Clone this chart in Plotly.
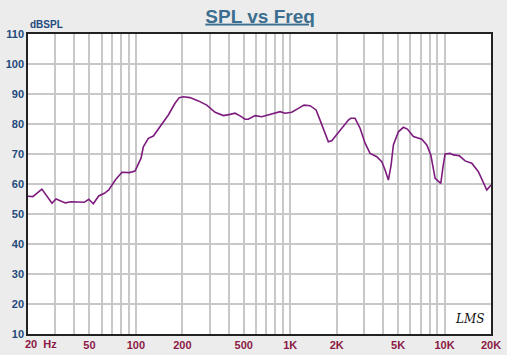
import plotly.graph_objects as go

# Frequency response
freq_hz = [20, 21.5, 24.6, 28.6, 30.4, 34.9, 38, 43, 46.3, 49.5, 53, 57.4, 62.5, 66.7,
           73.6, 81.3, 90.7, 98.7, 103.7, 108, 111.8, 120.4, 129.8, 143.4, 162.3, 179.3,
           191, 203, 224, 254, 288, 326, 369, 408, 439, 473, 510, 535, 592, 654, 722,
           798, 860, 926, 1023, 1129, 1230, 1345, 1471, 1561, 1665, 1767, 1859, 1952,
           2104, 2210, 2382, 2469, 2632, 2836, 3056, 3293, 3639, 3921, 4119, 4327, 4505,
           4662, 5023, 5413, 5745, 6284, 6871, 7122, 7674, 8147, 8687, 9457, 9741, 10083,
           10862, 11410, 12484, 13590, 15018, 16570, 18786, 20000]
spl_db = [55.9, 55.8, 58.3, 53.6, 55.0, 53.7, 54.1, 54.1, 53.9, 54.9, 53.4, 56.0, 56.9, 58.0,
          61.3, 63.9, 63.8, 64.3, 67.0, 68.6, 72.4, 75.2, 76.0, 79.1, 83.0, 86.9,
          88.8, 89.1, 88.8, 87.7, 86.3, 83.9, 82.8, 83.2, 83.6, 82.7, 81.6, 81.6, 82.8, 82.4, 83.0,
          83.6, 84.1, 83.6, 83.9, 85.2, 86.3, 86.1, 84.7, 81.3, 77.4, 74.1, 74.4, 75.8,
          78.0, 79.1, 81.3, 81.9, 81.9, 78.6, 73.6, 70.2, 69.1, 67.4, 64.7, 61.3, 66.3,
          73.0, 77.4, 78.9, 78.3, 75.8, 75.0, 74.9, 73.0, 69.7, 61.9, 60.2, 65.2, 70.0,
          70.2, 69.7, 69.4, 67.7, 66.9, 64.1, 58.0, 59.7]

grid_freqs = [20, 30, 40, 50, 60, 70, 80, 90, 100, 200, 300, 400, 500, 600, 700, 800, 900,
              1000, 2000, 3000, 4000, 5000, 6000, 7000, 8000, 9000, 10000, 20000]
labeled = {50: "50", 100: "100", 200: "200", 500: "500", 1000: "1K", 2000: "2K",
           5000: "5K", 10000: "10K", 20000: "20K"}
grid_text = [labeled.get(f, "") for f in grid_freqs]

y_ticks = [10, 20, 30, 40, 50, 60, 70, 80, 90, 100, 110]

FONT = "Liberation Sans, Arial"
X_COLOR = "#8b1a45"
Y_COLOR = "#1f4a7c"

fig = go.Figure()
fig.add_trace(go.Scatter(x=freq_hz, y=spl_db, mode="lines",
                         line=dict(color="#7d1b7e", width=1.6), hoverinfo="skip"))

fig.update_layout(
    width=507, height=355,
    margin=dict(l=28, r=16, t=34, b=21),
    paper_bgcolor="#ececec", plot_bgcolor="#ffffff",
    showlegend=False,
    title=dict(text="<b><u>SPL vs Freq</u></b>", x=0.513, xanchor="center",
               y=0.955, yanchor="middle", automargin=False,
               font=dict(family=FONT, size=19, color="#3b6e8f")),
    font=dict(family=FONT),
)
fig.update_xaxes(type="log", range=[1.30103, 4.30103], automargin=False,
                 tickvals=grid_freqs,
                 ticktext=[""] + [f"<b>{t}</b>" if t else "" for t in grid_text[1:]],
                 ticks="", ticklabelstandoff=0,
                 tickfont=dict(size=11, color=X_COLOR, family=FONT),
                 showgrid=True, gridcolor="#c8c8c8", gridwidth=1.5,
                 showline=True, linecolor="#222222", linewidth=1.5, mirror=True,
                 zeroline=False)
fig.update_yaxes(range=[10, 110], tickvals=y_ticks, automargin=False,
                 ticktext=[f"<b>{v}</b>" for v in y_ticks], ticks="",
                 ticklabelstandoff=0,
                 tickfont=dict(size=11, color=Y_COLOR, family=FONT),
                 showgrid=True, gridcolor="#c8c8c8", gridwidth=1.5,
                 showline=True, linecolor="#222222", linewidth=1.5, mirror=True,
                 zeroline=False)
# "20 Hz" first label sits left-aligned at the axis start
fig.add_annotation(text="<b>20  Hz</b>", x=1.30103, xref="x", xanchor="left",
                   y=0, yref="paper", yanchor="top", yshift=-2, showarrow=False,
                   xshift=-5,
                   font=dict(size=11, color=X_COLOR, family=FONT))
fig.add_annotation(text="<b>dBSPL</b>", x=0, xref="paper", xanchor="left",
                   y=1.0, yref="paper", yanchor="bottom", yshift=2, showarrow=False,
                   font=dict(size=10, color=Y_COLOR, family=FONT))
fig.add_annotation(text="<i>LMS</i>", x=0.99, xref="paper", xanchor="right",
                   y=0.02, yref="paper", yanchor="bottom", showarrow=False,
                   font=dict(size=12, color="#111111", family="DejaVu Serif"))

fig.write_html("out.html",
               config={"displayModeBar": False},
               post_script="document.body.style.margin='0';"
                           "document.body.style.background='#ececec';")
